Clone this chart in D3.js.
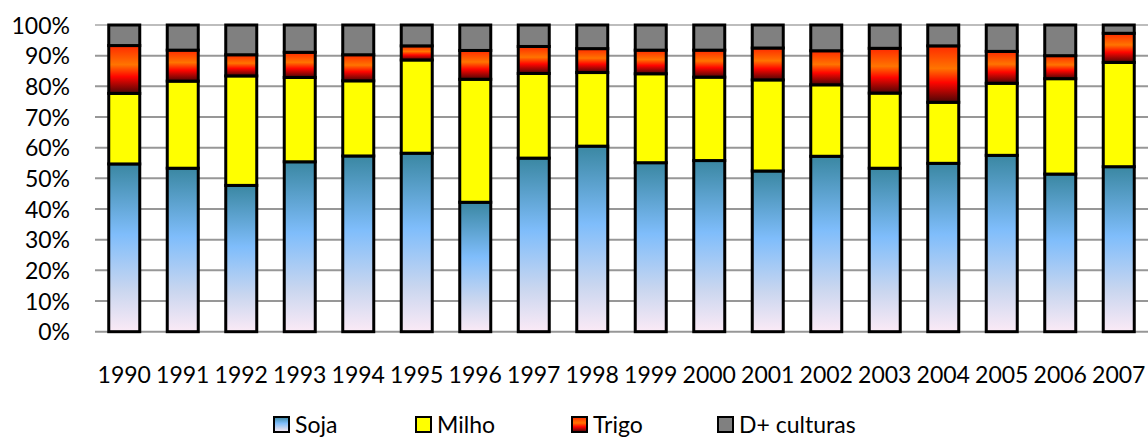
<!DOCTYPE html>
<html>
<head>
<meta charset="utf-8">
<script src="https://cdn.jsdelivr.net/npm/d3@7"></script>
<style>
  html, body { margin: 0; padding: 0; background: #fff; }
  svg { display: block; }
  text { font-family: Lato, "Open Sans", sans-serif; fill: #000; }
</style>
</head>
<body>
<svg id="chart" width="1148" height="437"></svg>
<script>
// Share of planted area by crop (%), 1990–2007
const years = ["1990","1991","1992","1993","1994","1995","1996","1997","1998",
               "1999","2000","2001","2002","2003","2004","2005","2006","2007"];
const soja   = [54.7, 53.3, 47.7, 55.4, 57.3, 58.2, 42.2, 56.6, 60.5, 55.1, 55.8, 52.4, 57.2, 53.3, 54.9, 57.5, 51.4, 53.8];
const milho  = [23.0, 28.4, 35.7, 27.5, 24.5, 30.4, 40.1, 27.6, 24.0, 29.0, 27.2, 29.7, 23.3, 24.5, 19.9, 23.5, 31.1, 34.0];
const trigo  = [15.6, 10.1,  6.9,  8.2,  8.5,  4.6,  9.4,  8.8,  7.8,  7.7,  8.8, 10.4, 11.1, 14.6, 18.4, 10.4,  7.5,  9.5];
const outras = [ 6.7,  8.2,  9.7,  8.9,  9.7,  6.8,  8.3,  7.0,  7.7,  8.2,  8.2,  7.5,  8.4,  7.6,  6.8,  8.6, 10.0,  2.7];
const seriesNames = ["Soja", "Milho", "Trigo", "D+ culturas"];
const yTicks = [0, 10, 20, 30, 40, 50, 60, 70, 80, 90, 100];

const rows = years.map((y, i) => ({
  year: y, Soja: soja[i], Milho: milho[i], Trigo: trigo[i], "D+ culturas": outras[i]
}));

const svg = d3.select("#chart");
const defs = svg.append("defs");

// Gradient fills
const gSoja = defs.append("linearGradient").attr("id", "gradSoja")
  .attr("x1", 0).attr("y1", 0).attr("x2", 0).attr("y2", 1);
[[0, "#3a87a2"], [0.42, "#7fbdfb"], [0.75, "#c9d6ef"], [1, "#fbeaf6"]]
  .forEach(([o, c]) => gSoja.append("stop").attr("offset", o).attr("stop-color", c));

const gTrigo = defs.append("linearGradient").attr("id", "gradTrigo")
  .attr("x1", 0).attr("y1", 0).attr("x2", 0).attr("y2", 1);
[[0, "#ff2a00"], [0.4, "#ff7400"], [0.65, "#ff0500"], [1, "#4a0606"]]
  .forEach(([o, c]) => gTrigo.append("stop").attr("offset", o).attr("stop-color", c));

const fills = {
  "Soja": "url(#gradSoja)",
  "Milho": "#ffff00",
  "Trigo": "url(#gradTrigo)",
  "D+ culturas": "#808080"
};

const plotLeft = 95, plotRight = 1148, plotTop = 25, plotBottom = 331.7;

const x = d3.scaleBand().domain(years).range([plotLeft, plotRight])
  .paddingInner(0.47).paddingOuter(0.235);
const y = d3.scaleLinear().domain([0, 100]).range([plotBottom, plotTop]);

// Gridlines
svg.append("g")
  .selectAll("line").data(yTicks).join("line")
  .attr("x1", plotLeft).attr("x2", plotRight)
  .attr("y1", d => y(d)).attr("y2", d => y(d))
  .attr("stroke", d => d === 100 ? "#bdbdbd" : "#979797")
  .attr("stroke-width", 2);

// Y axis labels
const yAxis = svg.append("g").attr("transform", `translate(${plotLeft - 25},0)`)
  .call(d3.axisLeft(y).tickValues(yTicks).tickFormat(d => d + "%").tickSize(0).tickPadding(0));
yAxis.select(".domain").remove();
yAxis.selectAll("text").attr("font-size", 23).attr("font-family", "Lato, sans-serif")
  .attr("fill", "#000").attr("dy", "0.35em");

// Stacked bars
const stack = d3.stack().keys(seriesNames);
const stacked = stack(rows);

svg.append("g").selectAll("g").data(stacked).join("g")
  .attr("fill", d => fills[d.key])
  .selectAll("rect").data(d => d).join("rect")
  .attr("x", d => x(d.data.year))
  .attr("width", x.bandwidth())
  .attr("y", d => y(d[1]))
  .attr("height", d => y(d[0]) - y(d[1]))
  .attr("stroke", "#000")
  .attr("stroke-width", 3);

// X axis labels
const xAxis = svg.append("g").attr("transform", `translate(0,375)`)
  .call(d3.axisBottom(x).tickSize(0).tickPadding(0));
xAxis.select(".domain").remove();
xAxis.selectAll("text").attr("font-size", 23).attr("font-family", "Lato, sans-serif")
  .attr("fill", "#000").attr("dy", "0.35em").attr("y", 0);

// Legend
const legendX = [274, 416, 572, 718];
const legend = svg.append("g").selectAll("g").data(seriesNames).join("g")
  .attr("transform", (d, i) => `translate(${legendX[i]},417)`);
legend.append("rect")
  .attr("width", 15).attr("height", 15)
  .attr("fill", d => fills[d])
  .attr("stroke", "#000").attr("stroke-width", 2);
legend.append("text")
  .attr("x", 21).attr("y", 7.5).attr("dy", "0.35em")
  .attr("font-size", 23)
  .text(d => d);
</script>
</body>
</html>
